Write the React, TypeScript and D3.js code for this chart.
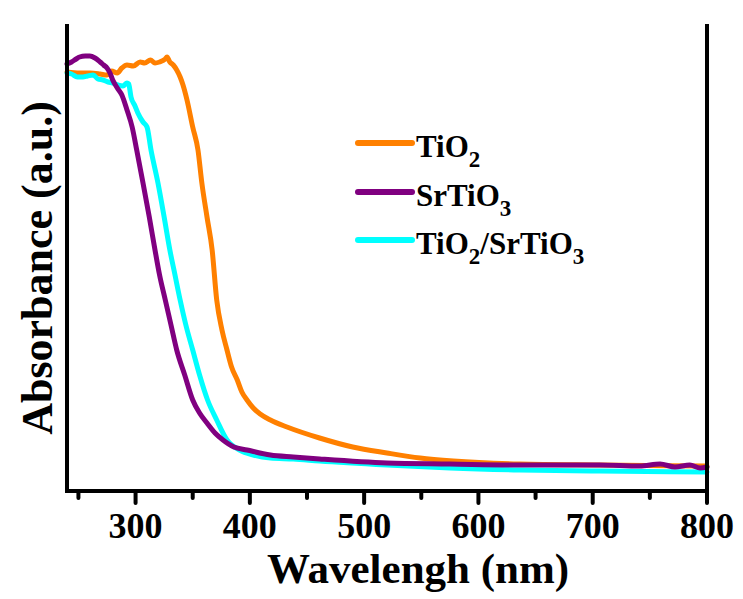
import React from "react";
import * as d3 from "d3";

// ---------- data (wavelength in nm, absorbance in a.u.) ----------
const tio2Wl = [240, 251, 260, 269, 275, 279, 284, 288, 292.5, 298, 304, 308, 313, 317, 321, 326, 327.5, 330, 333, 336, 339, 341.5, 345, 350, 354.6, 358, 362.5, 367, 371, 375.6, 380, 384, 389, 393, 397.5, 403, 409, 418, 432.5, 461, 490, 520, 549, 578, 636, 706, 800];
const tio2Abs = [4.19, 4.18, 4.18, 4.17, 4.16, 4.2, 4.18, 4.23, 4.26, 4.25, 4.29, 4.28, 4.31, 4.28, 4.29, 4.32, 4.34, 4.29, 4.26, 4.21, 4.14, 4.06, 3.91, 3.64, 3.41, 3.08, 2.74, 2.41, 1.91, 1.61, 1.41, 1.24, 1.11, 0.99, 0.91, 0.83, 0.77, 0.71, 0.64, 0.53, 0.44, 0.38, 0.33, 0.3, 0.27, 0.26, 0.25];

const srtio3Wl = [240, 244, 248, 251, 256, 260, 264.5, 269, 272, 275, 277.6, 280, 284, 288, 292.5, 297, 301, 304, 306.5, 312, 317, 321, 326, 331, 336, 343, 350, 356, 362.5, 369.5, 376.5, 386, 397.5, 418, 438, 461, 520, 575, 636, 706, 741, 759, 772, 785, 794, 800];
const srtio3Abs = [4.27, 4.29, 4.32, 4.34, 4.35, 4.35, 4.33, 4.29, 4.26, 4.23, 4.18, 4.11, 4.03, 3.96, 3.81, 3.64, 3.41, 3.23, 3.08, 2.74, 2.41, 2.16, 1.91, 1.66, 1.41, 1.16, 0.91, 0.78, 0.68, 0.58, 0.51, 0.44, 0.41, 0.36, 0.34, 0.32, 0.28, 0.27, 0.26, 0.26, 0.25, 0.27, 0.24, 0.26, 0.23, 0.24];

const compWl = [240, 244, 249, 254, 258, 263, 267, 271.5, 276, 280, 284.6, 289, 292.5, 294, 296, 299.5, 302, 306.5, 310, 313.5, 319.6, 325, 330, 334.5, 339, 344, 350, 356, 363, 371, 380, 391, 403, 418, 438, 461, 520, 575, 636, 706, 800];
const compAbs = [4.18, 4.17, 4.14, 4.14, 4.15, 4.16, 4.12, 4.11, 4.09, 4.08, 4.06, 4.05, 4.08, 4.07, 3.94, 3.85, 3.78, 3.69, 3.64, 3.41, 3.08, 2.74, 2.41, 2.16, 1.91, 1.66, 1.41, 1.16, 0.91, 0.71, 0.51, 0.41, 0.36, 0.33, 0.32, 0.3, 0.26, 0.23, 0.21, 0.2, 0.19];

const majorTicks = [300, 400, 500, 600, 700, 800];
const minorTicks = [250, 350, 450, 550, 650, 750];

const seriesNames = ["TiO2", "SrTiO3", "TiO2/SrTiO3"];
const seriesColors = ["#ff8000", "#800080", "#00ffff"];

// ---------- layout ----------
const W = 743;
const H = 599;
const left = 67;
const right = 707;
const bottom = 491;
const top = 24;
const FONT = "'Liberation Serif', 'Times New Roman', serif";

export default function App() {
  const x = d3.scaleLinear().domain([240, 800]).range([left, right]);
  const y = d3.scaleLinear().domain([0, 4.5]).range([bottom, 41]);

  const mk = (wl: number[], ab: number[]) =>
    wl.map((w, i) => [w, ab[i]] as [number, number]);
  const line = d3
    .line<[number, number]>()
    .x((d) => x(d[0]))
    .y((d) => y(d[1]))
    .curve(d3.curveMonotoneX);

  const curves = [
    { name: seriesNames[0], color: seriesColors[0], data: mk(tio2Wl, tio2Abs) },
    { name: seriesNames[2], color: seriesColors[2], data: mk(compWl, compAbs) },
    { name: seriesNames[1], color: seriesColors[1], data: mk(srtio3Wl, srtio3Abs) },
  ];

  const legendY = [143, 192, 240];
  const legendX1 = 358;
  const legendX2 = 412;
  const textX = 416;
  const fs = 31;
  const sub = 23;

  const legendLabel = (i: number) => {
    if (i === 0)
      return (
        <>
          <tspan>TiO</tspan>
          <tspan fontSize={sub} dy={10}>2</tspan>
        </>
      );
    if (i === 1)
      return (
        <>
          <tspan>SrTiO</tspan>
          <tspan fontSize={sub} dy={10}>3</tspan>
        </>
      );
    return (
      <>
        <tspan>TiO</tspan>
        <tspan fontSize={sub} dy={10}>2</tspan>
        <tspan dy={-10}>/SrTiO</tspan>
        <tspan fontSize={sub} dy={10}>3</tspan>
      </>
    );
  };

  return (
    <svg
      width={W}
      height={H}
      style={{ position: "absolute", left: 0, top: 0, background: "#fff" }}
      fontFamily={FONT}
      fontWeight="bold"
    >
      <rect x={0} y={0} width={W} height={H} fill="#fff" />
      {/* curves */}
      {curves.map((c) => (
        <path
          key={c.name}
          d={line(c.data) || ""}
          fill="none"
          stroke={c.color}
          strokeWidth={5}
          strokeLinejoin="round"
          strokeLinecap="round"
        />
      ))}
      {/* axes frame */}
      <line x1={left} y1={top} x2={left} y2={bottom} stroke="#000" strokeWidth={4} />
      <line x1={right} y1={top} x2={right} y2={bottom} stroke="#000" strokeWidth={4} />
      <line x1={left - 2} y1={bottom} x2={right + 2} y2={bottom} stroke="#000" strokeWidth={4} />
      {/* ticks */}
      {majorTicks.map((t) => (
        <line key={"M" + t} x1={x(t)} y1={bottom} x2={x(t)} y2={bottom + 12} stroke="#000" strokeWidth={4} strokeLinecap="round" />
      ))}
      {minorTicks.map((t) => (
        <line key={"m" + t} x1={x(t)} y1={bottom} x2={x(t)} y2={bottom + 7} stroke="#000" strokeWidth={4} strokeLinecap="round" />
      ))}
      {majorTicks.map((t) => (
        <text key={"L" + t} x={x(t)} y={538} textAnchor="middle" fontSize={36} fill="#000">
          {t}
        </text>
      ))}
      {/* axis titles */}
      <text x={418} y={583} textAnchor="middle" fontSize={43} fill="#000">
        Wavelengh (nm)
      </text>
      <text
        transform={`translate(52,268) rotate(-90)`}
        textAnchor="middle"
        fontSize={44}
        fill="#000"
      >
        Absorbance (a.u.)
      </text>
      {/* legend */}
      {[0, 1, 2].map((i) => (
        <g key={"leg" + i}>
          <line
            x1={legendX1}
            y1={legendY[i]}
            x2={legendX2}
            y2={legendY[i]}
            stroke={seriesColors[i]}
            strokeWidth={6}
            strokeLinecap="round"
          />
          <text x={textX} y={legendY[i] + 14} fontSize={fs} fill="#000">
            {legendLabel(i)}
          </text>
        </g>
      ))}
    </svg>
  );
}
